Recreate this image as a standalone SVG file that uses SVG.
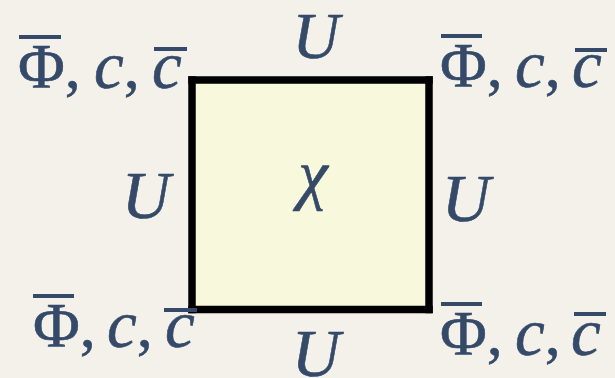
<svg xmlns="http://www.w3.org/2000/svg" width="615" height="378" viewBox="0 0 615 378">
<style>
.t{font-family:'Liberation Serif','Times New Roman',serif;font-size:64px;fill:#344a68;stroke:#344a68;stroke-width:0.6}
.i{font-style:italic;font-size:67px}
.bar{fill:#344a68}
.edge{stroke:#000;stroke-width:7.5;stroke-linecap:square;fill:none}
</style>
<rect x="0" y="0" width="615" height="378" fill="#f4f1eb"/>
<g id="plaquette">
<rect x="192" y="80" width="237" height="229.5" fill="#f8f8dc"/>
<text class="t i" x="313" y="197" text-anchor="middle">χ</text>
</g>
<g id="connectors">
<line class="edge" x1="192" y1="80" x2="429" y2="80"/>
<line class="edge" x1="429" y1="80" x2="429" y2="309.5"/>
<line class="edge" x1="192" y1="309.5" x2="429" y2="309.5"/>
<line class="edge" x1="192" y1="80" x2="192" y2="309.5"/>
<text class="t i" x="316" y="58" text-anchor="middle" style="font-size:65px">U</text>
<text class="t i" x="146" y="218" text-anchor="middle">U</text>
<text class="t i" x="466" y="221" text-anchor="middle">U</text>
<text class="t i" x="316" y="376" text-anchor="middle">U</text>
</g>
<g id="site-top-left">
<text class="t" x="18" y="88">Φ,<tspan class="i" x="94">c</tspan><tspan>,</tspan><tspan class="i" x="152">c</tspan></text>
<rect class="bar" x="19" y="35" width="42" height="4"/>
<rect class="bar" x="154" y="47" width="33" height="4"/>
</g>
<g id="site-top-right">
<text class="t" x="440" y="87">Φ,<tspan class="i" x="515">c</tspan><tspan>,</tspan><tspan class="i" x="572">c</tspan></text>
<rect class="bar" x="441" y="34" width="41" height="4"/>
<rect class="bar" x="575" y="48" width="32" height="4"/>
</g>
<g id="site-bottom-left">
<text class="t" x="33" y="347">Φ,<tspan class="i" x="107">c</tspan><tspan>,</tspan><tspan class="i" x="165">c</tspan></text>
<rect class="bar" x="33" y="294" width="41" height="4"/>
<rect class="bar" x="164" y="308" width="33" height="4"/>
</g>
<g id="site-bottom-right">
<text class="t" x="440" y="355">Φ,<tspan class="i" x="515">c</tspan><tspan>,</tspan><tspan class="i" x="571">c</tspan></text>
<rect class="bar" x="441" y="302" width="41" height="4"/>
<rect class="bar" x="574" y="312" width="32" height="4"/>
</g>
</svg>
